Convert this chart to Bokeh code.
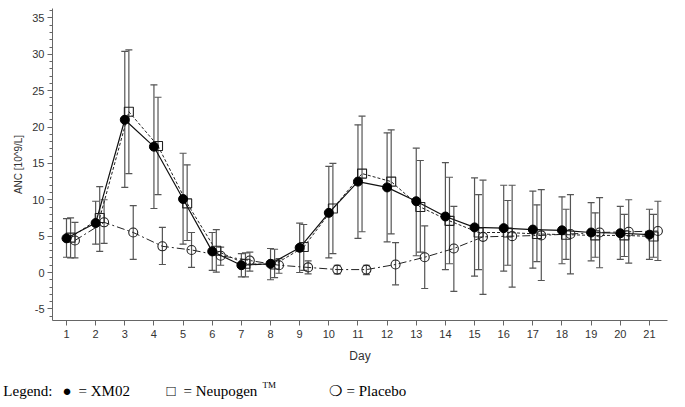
from bokeh.plotting import figure
from bokeh.models import ColumnDataSource, Whisker, TeeHead, FixedTicker, Range1d
from bokeh.layouts import column
from bokeh.core.properties import value
from bokeh.embed import file_html
from bokeh.resources import INLINE

days = list(range(1, 22))
xm02 = [4.7, 6.8, 21.0, 17.3, 10.1, 2.9, 1.0, 1.2, 3.4, 8.2, 12.5, 11.7, 9.8, 7.7, 6.2, 6.1, 5.9, 5.8, 5.5, 5.4, 5.2]
xm02_hi = [7.4, 9.8, 30.4, 25.8, 16.4, 5.5, 2.6, 3.3, 6.8, 14.6, 20.3, 19.2, 17.1, 15.1, 13.0, 12.0, 11.2, 10.4, 9.6, 9.1, 8.7]
xm02_lo = [2.1, 3.9, 11.7, 8.8, 3.9, 0.3, -0.6, -1.0, 0.0, 2.0, 4.7, 4.2, 2.3, 0.4, -0.5, 0.2, 0.6, 1.2, 1.6, 1.8, 1.8]

neupogen = [4.8, 7.5, 22.1, 17.4, 9.5, 3.0, 1.2, 1.1, 3.5, 8.8, 13.6, 12.5, 9.0, 7.1, 5.5, 5.5, 5.3, 5.2, 5.1, 5.1, 4.95]
neupogen_hi = [7.5, 11.8, 30.6, 24.1, 14.8, 5.9, 2.7, 3.2, 6.6, 15.0, 21.5, 19.6, 15.4, 13.1, 10.7, 9.9, 9.3, 8.7, 8.2, 8.0, 8.0]
neupogen_lo = [2.0, 2.9, 13.6, 10.7, 4.4, 0.05, -0.6, -0.7, 0.3, 2.6, 5.6, 5.3, 2.8, 1.2, 0.4, 1.0, 1.5, 1.8, 2.1, 2.2, 2.1]

placebo = [4.4, 6.9, 5.5, 3.6, 3.1, 2.3, 1.65, 1.0, 0.7, 0.4, 0.4, 1.1, 2.1, 3.3, 4.9, 5.0, 5.1, 5.3, 5.5, 5.6, 5.7]
placebo_hi = [6.9, 10.0, 9.2, 6.2, 5.5, 3.5, 2.8, 1.9, 1.6, 1.0, 1.0, 4.1, 6.4, 9.1, 12.7, 12.0, 11.4, 10.7, 10.3, 10.0, 9.8]
placebo_lo = [2.0, 4.0, 1.8, 1.1, 0.7, 1.0, 0.2, -0.1, -0.2, -0.2, -0.3, -1.7, -2.2, -2.6, -3.0, -2.0, -1.1, -0.2, 0.65, 1.3, 1.65]

y_ticks = [-5, 0, 5, 10, 15, 20, 25, 30, 35]

legend_title = "Legend:"
legend_texts = ["\u25cf", "= XM02", "\u25a1", "= Neupogen", "\u274d", "= Placebo"]

W = 677
LEFT = 52
RIGHT = 10
p = figure(width=W, height=368, output_backend="svg", toolbar_location=None,
           x_range=Range1d(0.52, 21.62), y_range=Range1d(-6.6, 36.3),
           min_border_left=LEFT, min_border_right=RIGHT, min_border_top=8, min_border_bottom=48)
p.outline_line_color = None
p.xgrid.visible = False
p.ygrid.visible = False

AX = "#666666"
for ax in (p.xaxis[0], p.yaxis[0]):
    ax.axis_line_color = AX
    ax.major_tick_line_color = AX
    ax.minor_tick_line_color = AX
    ax.major_label_text_font = "Liberation Sans"
    ax.major_label_text_font_size = "11px"
    ax.major_label_text_color = "#333333"
    ax.axis_label_text_font = "Liberation Sans"
    ax.axis_label_text_font_style = "normal"
    ax.axis_label_text_color = "#333333"

p.xaxis.ticker = FixedTicker(ticks=days)
p.xaxis.major_tick_out = 5
p.xaxis.major_tick_in = 0
p.xaxis.minor_tick_out = 0
p.xaxis.major_label_standoff = 4
p.xaxis.axis_label = "Day"
p.xaxis.axis_label_text_font_size = "12px"
p.xaxis.axis_label_standoff = 8

p.yaxis.ticker = FixedTicker(ticks=y_ticks, minor_ticks=list(range(-6, 37)))
p.yaxis.major_label_overrides = {t: str(t) for t in y_ticks}
p.yaxis.major_tick_out = 5
p.yaxis.major_tick_in = 0
p.yaxis.minor_tick_out = 3
p.yaxis.minor_tick_in = 0
p.yaxis.major_label_standoff = 3
p.yaxis.axis_label = "ANC [10^9/L]"
p.yaxis.axis_label_text_font_size = "10px"
p.yaxis.axis_label_standoff = 5

off_n = 0.14
off_p = 0.29
src_x = ColumnDataSource(dict(x=days, y=xm02, hi=xm02_hi, lo=xm02_lo))
src_n = ColumnDataSource(dict(x=[d + off_n for d in days], y=neupogen, hi=neupogen_hi, lo=neupogen_lo))
src_p = ColumnDataSource(dict(x=[d + off_p for d in days], y=placebo, hi=placebo_hi, lo=placebo_lo))

EB = "#555555"
for src in (src_x, src_n, src_p):
    w = Whisker(source=src, base="x", upper="hi", lower="lo", line_color=EB, line_width=1.2,
                upper_head=TeeHead(size=7, line_color=EB, line_width=1.2),
                lower_head=TeeHead(size=7, line_color=EB, line_width=1.2))
    p.add_layout(w)

p.line("x", "y", source=src_p, line_color="#222222", line_width=1, line_dash="8 3 2 3")
p.line("x", "y", source=src_n, line_color="#222222", line_width=1, line_dash="3 2")
p.line("x", "y", source=src_x, line_color="#111111", line_width=1.2)

p.scatter("x", "y", source=src_p, marker="circle", size=9, fill_alpha=0, line_color="#222222", line_width=1.1)
p.scatter("x", "y", source=src_n, marker="square", size=9, fill_alpha=0, line_color="#222222", line_width=1.1)
p.scatter("x", "y", source=src_x, marker="circle", size=9, fill_color="black", line_color="black")

# legend strip below the chart; its frame is aligned with the main frame (page x 52..667)
LT = 8
LH = 28
FW = W - LEFT - RIGHT
p2 = figure(width=W, height=LH + LT, output_backend="svg", toolbar_location=None,
            x_range=Range1d(LEFT, LEFT + FW), y_range=Range1d(0, LH),
            min_border_left=LEFT, min_border_right=RIGHT, min_border_top=LT, min_border_bottom=0,
            x_axis_location=None, y_axis_location="left")
p2.grid.visible = False
p2.outline_line_color = None
ya = p2.yaxis[0]
ya.ticker = FixedTicker(ticks=[])
ya.axis_line_color = None
ya.major_tick_out = 0
ya.major_tick_in = 0
ya.minor_tick_out = 0
ya.minor_tick_in = 0
ya.major_label_text_font_size = "0px"
ya.major_label_standoff = 0
ya.axis_label = legend_title
ya.axis_label_orientation = "horizontal"
ya.axis_label_standoff = 0
ya.axis_label_text_font = "Liberation Serif"
ya.axis_label_text_font_size = "15px"
ya.axis_label_text_font_style = "normal"
ya.axis_label_text_color = "black"

leg_x = [62, 78, 166, 183, 328, 346]
leg_src = ColumnDataSource(dict(x=leg_x, y=[LH / 2] * len(leg_x), t=legend_texts))
p2.text("x", "y", text="t", source=leg_src, text_font=value("Liberation Serif"),
        text_font_size="15px", text_baseline="middle", text_color="black")
p2.text(x=[262], y=[LH / 2 + 6], text=["TM"], text_font=value("Liberation Serif"),
        text_font_size="9px", text_baseline="middle", text_color="black")

open("out.html", "w").write(file_html(column(p, p2), INLINE))
